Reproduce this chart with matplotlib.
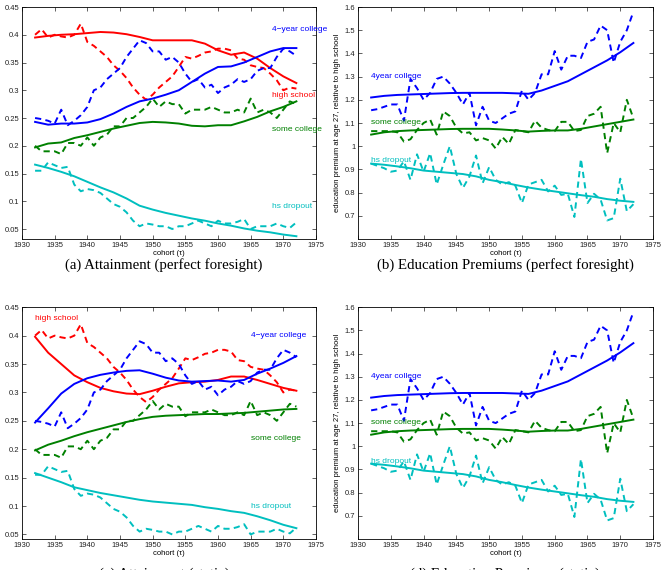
import numpy as np
import matplotlib
matplotlib.use('Agg')
import matplotlib.pyplot as plt

# cohorts with observed (dashed) data
years = list(range(1932, 1973))
fit_years = list(range(1932, 1973, 2))

# ---- attainment, data (dashed) ----
att_hs = [0.40, 0.41, 0.395, 0.40, 0.397, 0.395, 0.40, 0.42, 0.387, 0.38, 0.37, 0.36, 0.345, 0.335,
          0.322, 0.305, 0.292, 0.283, 0.292, 0.305, 0.315, 0.325, 0.342, 0.36, 0.357, 0.362, 0.368,
          0.37, 0.375, 0.375, 0.372, 0.357, 0.355, 0.345, 0.342, 0.34, 0.33, 0.318, 0.30, 0.305, 0.303]
att_4yr = [0.25, 0.248, 0.245, 0.24, 0.265, 0.237, 0.245, 0.255, 0.27, 0.30, 0.305, 0.32, 0.33, 0.34,
           0.36, 0.375, 0.39, 0.385, 0.37, 0.37, 0.355, 0.36, 0.35, 0.33, 0.315, 0.32, 0.305, 0.31,
           0.295, 0.305, 0.31, 0.32, 0.315, 0.32, 0.335, 0.34, 0.34, 0.36, 0.375, 0.37, 0.362]
att_sc = [0.20, 0.19, 0.19, 0.19, 0.185, 0.205, 0.205, 0.20, 0.215, 0.20, 0.215, 0.22, 0.235, 0.235,
          0.25, 0.25, 0.26, 0.27, 0.285, 0.27, 0.28, 0.275, 0.275, 0.258, 0.265, 0.265, 0.265, 0.27,
          0.265, 0.26, 0.26, 0.265, 0.26, 0.285, 0.26, 0.265, 0.26, 0.25, 0.265, 0.28, 0.275]
att_dr = [0.155, 0.155, 0.17, 0.165, 0.16, 0.162, 0.13, 0.118, 0.122, 0.12, 0.115, 0.105, 0.095, 0.09,
          0.08, 0.065, 0.055, 0.06, 0.058, 0.055, 0.055, 0.05, 0.055, 0.055, 0.06, 0.065, 0.06, 0.055,
          0.065, 0.06, 0.06, 0.063, 0.068, 0.05, 0.055, 0.055, 0.055, 0.06, 0.055, 0.052, 0.062]

# ---- attainment, perfect foresight model (solid) ----
pf_hs = [0.395, 0.398, 0.40, 0.401, 0.403, 0.405, 0.404, 0.401, 0.396, 0.39, 0.39, 0.39, 0.39, 0.384,
         0.372, 0.364, 0.368, 0.357, 0.34, 0.325, 0.313, 0.31][:21]
pf_4yr = [0.243, 0.238, 0.24, 0.24, 0.242, 0.248, 0.258, 0.27, 0.28, 0.285, 0.292, 0.30, 0.315, 0.33,
          0.342, 0.343, 0.35, 0.36, 0.37, 0.376, 0.376]
pf_sc = [0.197, 0.204, 0.206, 0.214, 0.219, 0.225, 0.231, 0.236, 0.241, 0.243, 0.242, 0.24, 0.236,
         0.235, 0.237, 0.237, 0.244, 0.252, 0.262, 0.27, 0.28]
pf_dr = [0.166, 0.16, 0.153, 0.145, 0.135, 0.125, 0.116, 0.105, 0.092, 0.085, 0.079, 0.074, 0.069,
         0.065, 0.06, 0.056, 0.051, 0.047, 0.044, 0.04, 0.037]

# ---- attainment, static model (solid) ----
st_hs = [0.398, 0.37, 0.35, 0.33, 0.318, 0.308, 0.302, 0.298, 0.297, 0.303, 0.31, 0.316, 0.318, 0.319,
         0.322, 0.328, 0.328, 0.322, 0.315, 0.308, 0.303]
st_4yr = [0.247, 0.272, 0.298, 0.315, 0.325, 0.331, 0.335, 0.338, 0.339, 0.333, 0.326, 0.321, 0.319,
          0.32, 0.321, 0.319, 0.322, 0.333, 0.342, 0.352, 0.364]
st_sc = [0.198, 0.208, 0.215, 0.223, 0.23, 0.236, 0.242, 0.248, 0.253, 0.257, 0.259, 0.26, 0.261,
         0.262, 0.262, 0.263, 0.264, 0.266, 0.268, 0.27, 0.271]
st_dr = [0.158, 0.15, 0.142, 0.133, 0.128, 0.123, 0.119, 0.115, 0.111, 0.108, 0.106, 0.104, 0.102,
         0.098, 0.095, 0.091, 0.088, 0.082, 0.075, 0.067, 0.061]

# ---- education premiums, data (dashed) ----
prem_4yr = [1.155, 1.16, 1.17, 1.18, 1.18, 1.11, 1.29, 1.25, 1.20, 1.23, 1.29, 1.30, 1.27, 1.23, 1.18,
            1.23, 1.09, 1.17, 1.11, 1.10, 1.12, 1.14, 1.15, 1.24, 1.20, 1.23, 1.31, 1.31, 1.41, 1.33,
            1.39, 1.39, 1.38, 1.45, 1.46, 1.52, 1.50, 1.36, 1.45, 1.50, 1.58]
prem_sc = [1.065, 1.065, 1.065, 1.065, 1.06, 1.02, 1.03, 1.07, 1.10, 1.115, 1.05, 1.15, 1.13, 1.08,
           1.055, 1.06, 1.025, 1.035, 1.025, 0.99, 1.04, 1.01, 1.07, 1.065, 1.06, 1.11, 1.08, 1.07,
           1.065, 1.105, 1.105, 1.065, 1.07, 1.13, 1.14, 1.17, 0.97, 1.10, 1.06, 1.20, 1.12]
prem_dr = [0.925, 0.915, 0.905, 0.89, 0.895, 0.935, 0.855, 0.965, 0.89, 0.97, 0.835, 0.92, 1.00, 0.88,
           0.82, 0.87, 0.96, 0.84, 0.91, 0.855, 0.835, 0.845, 0.83, 0.755, 0.835, 0.845, 0.855, 0.805,
           0.83, 0.79, 0.795, 0.695, 0.945, 0.755, 0.795, 0.77, 0.68, 0.69, 0.86, 0.72, 0.75]

# ---- education premiums, model (solid) ----
fit_4yr = [1.21, 1.217, 1.221, 1.223, 1.225, 1.227, 1.229, 1.23, 1.23, 1.23, 1.23, 1.228, 1.226,
           1.24, 1.26, 1.28, 1.31, 1.34, 1.37, 1.405, 1.445]
fit_sc = [1.05, 1.06, 1.065, 1.068, 1.07, 1.072, 1.074, 1.075, 1.075, 1.075, 1.072, 1.068, 1.063,
          1.066, 1.068, 1.068, 1.075, 1.085, 1.095, 1.105, 1.115]
fit_dr = [0.925, 0.92, 0.913, 0.905, 0.895, 0.89, 0.885, 0.88, 0.87, 0.855, 0.845, 0.833, 0.822,
          0.813, 0.805, 0.797, 0.789, 0.782, 0.772, 0.765, 0.76]

BLUE, RED, GREEN, CYAN = '#0000ff', '#ff0000', '#008000', '#00bfbf'
DASH = (0, (3.2, 2.2))

plt.rcParams['font.family'] = ['Liberation Sans', 'DejaVu Sans']

fig = plt.figure(figsize=(6.63, 5.70), dpi=100)


def style_axes(ax, ylim, yticks):
    ax.set_xlim(1930, 1975)
    ax.set_ylim(*ylim)
    ax.set_xticks(range(1930, 1976, 5))
    ax.set_yticks(yticks)
    ax.set_yticklabels(['%g' % round(t, 2) for t in yticks])
    ax.tick_params(direction='in', top=True, right=True, length=3, width=0.5,
                   labelsize=5.5, pad=2, colors='#222222')
    for s in ax.spines.values():
        s.set_linewidth(0.6)
    ax.set_xlabel('cohort (τ)', fontsize=5.5, labelpad=1)


def attainment_panel(rect, ylim, solid, labels):
    ax = fig.add_axes(rect)
    for dashed, fit, c in zip([att_hs, att_4yr, att_sc, att_dr], solid, [RED, BLUE, GREEN, CYAN]):
        ax.plot(years, dashed, color=c, lw=1.4, linestyle=DASH)
        ax.plot(fit_years, fit, color=c, lw=1.4)
    style_axes(ax, ylim, np.arange(0.05, 0.451, 0.05))
    ax.set_ylabel('attainment rate', fontsize=5.5)
    ax.yaxis.set_label_coords(-0.068, 0.5)
    for txt, x, y, c in labels:
        ax.text(x, y, txt, color=c, fontsize=6)
    return ax


def premium_panel(rect):
    ax = fig.add_axes(rect)
    for dashed, fit, c in zip([prem_4yr, prem_sc, prem_dr], [fit_4yr, fit_sc, fit_dr], [BLUE, GREEN, CYAN]):
        ax.plot(years, dashed, color=c, lw=1.4, linestyle=DASH)
        ax.plot(fit_years, fit, color=c, lw=1.4)
    style_axes(ax, (0.6, 1.6), np.arange(0.7, 1.601, 0.1))
    ax.set_ylabel('education premium at age 27, relative to high school', fontsize=5.5)
    ax.yaxis.set_label_coords(-0.058, 0.5)
    ax.text(1932, 1.295, '4year college', color=BLUE, fontsize=6)
    ax.text(1932, 1.095, 'some college', color=GREEN, fontsize=6)
    ax.text(1932, 0.93, 'hs dropout', color=CYAN, fontsize=6)
    return ax


attainment_panel([0.0332, 0.5807, 0.4434, 0.407], (0.032, 0.45), [pf_hs, pf_4yr, pf_sc, pf_dr],
                 [('4−year college', 1968.3, 0.407, BLUE), ('high school', 1968.3, 0.287, RED),
                  ('some college', 1968.3, 0.227, GREEN), ('hs dropout', 1968.3, 0.087, CYAN)])
premium_panel([0.540, 0.5807, 0.445, 0.407])

attainment_panel([0.0332, 0.0544, 0.4434, 0.4066], (0.042, 0.45), [st_hs, st_4yr, st_sc, st_dr],
                 [('high school', 1932, 0.427, RED), ('4−year college', 1965, 0.397, BLUE),
                  ('some college', 1965, 0.217, GREEN), ('hs dropout', 1965, 0.097, CYAN)])
premium_panel([0.540, 0.0544, 0.445, 0.4066])

cap = dict(fontsize=10.7, family=['Liberation Serif', 'DejaVu Serif'], ha='center', va='center')
fig.text(164 / 663, 1 - 265 / 570, '(a) Attainment (perfect foresight)', **cap)
fig.text(505 / 663, 1 - 265 / 570, '(b) Education Premiums (perfect foresight)', **cap)
fig.text(164 / 663, 1 - 574 / 570, '(c) Attainment (static)', **cap)
fig.text(505 / 663, 1 - 574 / 570, '(d) Education Premiums (static)', **cap)

plt.savefig('out.png', dpi=100)
plt.close()
